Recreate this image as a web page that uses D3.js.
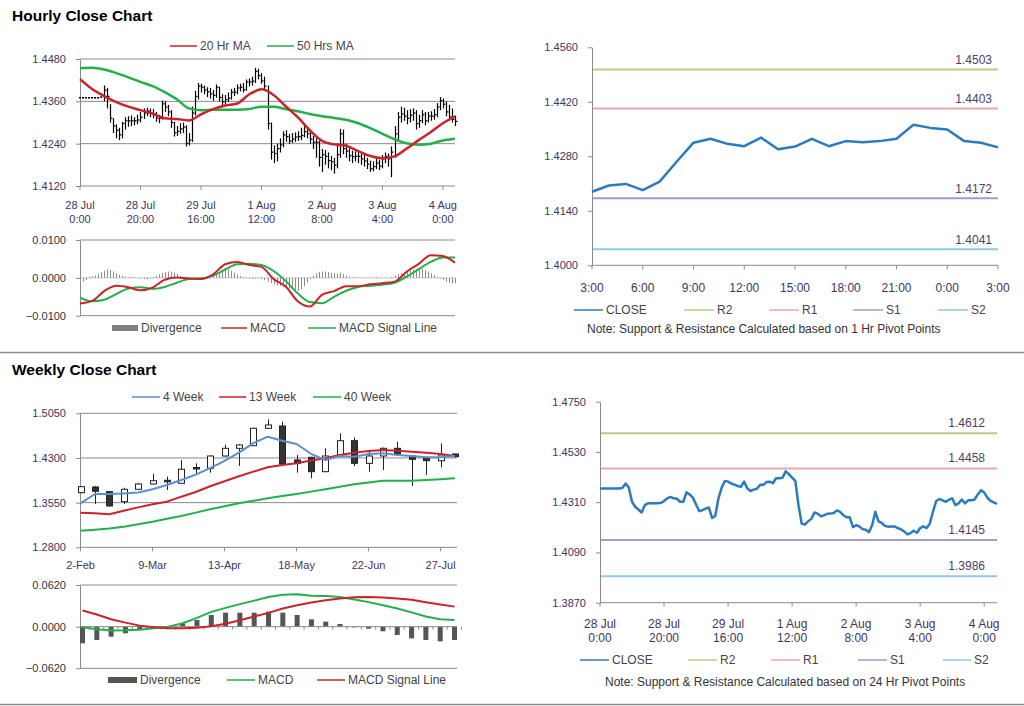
<!DOCTYPE html>
<html>
<head>
<meta charset="utf-8">
<script src="https://cdn.jsdelivr.net/npm/d3@7"></script>
<style>
  body { margin: 0; background: #fff; }
  svg { display: block; font-family: "Liberation Sans", Arial, sans-serif; }
</style>
</head>
<body>
<svg id="chart" width="1024" height="706"></svg>
<script>
// ---------- hourly data (one value per hourly bar) ----------
const hourClose = [
  1.4370,1.4370,1.4370,1.4370,1.4370,1.4370,1.4370,1.4372,1.4392,1.4374,
  1.4312,1.4290,1.4278,1.4265,1.4297,1.4305,1.4305,1.4305,1.4305,1.4307,
  1.4315,1.4327,1.4333,1.4327,1.4325,1.4312,1.4312,1.4353,1.4344,1.4330,
  1.4300,1.4271,1.4275,1.4282,1.4287,1.4241,1.4250,1.4327,1.4374,1.4403,
  1.4400,1.4392,1.4387,1.4381,1.4377,1.4400,1.4371,1.4359,1.4365,1.4369,
  1.4386,1.4386,1.4398,1.4400,1.4393,1.4415,1.4415,1.4417,1.4445,1.4433,
  1.4418,1.4403,1.4297,1.4216,1.4212,1.4226,1.4237,1.4265,1.4260,1.4248,
  1.4253,1.4259,1.4260,1.4263,1.4274,1.4268,1.4253,1.4244,1.4244,1.4201,
  1.4209,1.4204,1.4192,1.4189,1.4179,1.4209,1.4268,1.4226,1.4219,1.4206,
  1.4203,1.4204,1.4204,1.4197,1.4191,1.4182,1.4169,1.4175,1.4185,1.4176,
  1.4197,1.4204,1.4197,1.4216,1.4268,1.4315,1.4324,1.4318,1.4312,1.4321,
  1.4327,1.4297,1.4305,1.4322,1.4305,1.4318,1.4318,1.4322,1.4344,1.4362,
  1.4352,1.4330,1.4316,1.4309,1.4303
];
const hourHigh = [
  1.4370,1.4370,1.4370,1.4370,1.4370,1.4370,1.4370,1.4372,1.4405,1.4398,
  1.4352,1.4312,1.4295,1.4285,1.4302,1.4315,1.4318,1.4320,1.4315,1.4322,
  1.4330,1.4340,1.4342,1.4340,1.4338,1.4330,1.4322,1.4362,1.4360,1.4350,
  1.4335,1.4302,1.4290,1.4298,1.4300,1.4292,1.4270,1.4345,1.4390,1.4412,
  1.4410,1.4405,1.4400,1.4398,1.4392,1.4408,1.4402,1.4380,1.4378,1.4385,
  1.4395,1.4398,1.4408,1.4410,1.4412,1.4422,1.4425,1.4430,1.4455,1.4452,
  1.4440,1.4430,1.4405,1.4300,1.4235,1.4240,1.4255,1.4275,1.4278,1.4268,
  1.4270,1.4272,1.4275,1.4285,1.4290,1.4285,1.4275,1.4262,1.4255,1.4248,
  1.4225,1.4222,1.4215,1.4205,1.4200,1.4240,1.4282,1.4280,1.4240,1.4228,
  1.4220,1.4218,1.4216,1.4212,1.4208,1.4200,1.4192,1.4190,1.4198,1.4195,
  1.4208,1.4215,1.4212,1.4232,1.4290,1.4330,1.4345,1.4342,1.4335,1.4338,
  1.4340,1.4335,1.4322,1.4335,1.4330,1.4330,1.4332,1.4338,1.4355,1.4372,
  1.4368,1.4360,1.4350,1.4340,1.4320
];
const hourLow = [
  1.4370,1.4370,1.4370,1.4370,1.4370,1.4370,1.4370,1.4372,1.4360,1.4340,
  1.4300,1.4270,1.4255,1.4250,1.4255,1.4280,1.4288,1.4290,1.4292,1.4295,
  1.4300,1.4310,1.4318,1.4315,1.4312,1.4302,1.4298,1.4308,1.4330,1.4318,
  1.4285,1.4260,1.4262,1.4268,1.4270,1.4232,1.4235,1.4245,1.4320,1.4365,
  1.4385,1.4380,1.4372,1.4368,1.4362,1.4370,1.4360,1.4348,1.4352,1.4358,
  1.4365,1.4375,1.4380,1.4388,1.4385,1.4390,1.4402,1.4405,1.4412,1.4422,
  1.4410,1.4395,1.4280,1.4195,1.4185,1.4190,1.4215,1.4230,1.4245,1.4240,
  1.4242,1.4245,1.4248,1.4250,1.4258,1.4255,1.4240,1.4225,1.4200,1.4175,
  1.4160,1.4180,1.4170,1.4165,1.4155,1.4170,1.4200,1.4210,1.4200,1.4190,
  1.4185,1.4190,1.4185,1.4180,1.4175,1.4168,1.4160,1.4162,1.4168,1.4165,
  1.4170,1.4185,1.4175,1.4145,1.4200,1.4250,1.4300,1.4305,1.4295,1.4300,
  1.4305,1.4280,1.4285,1.4298,1.4292,1.4300,1.4305,1.4308,1.4315,1.4335,
  1.4340,1.4318,1.4305,1.4300,1.4290
];
const hourDiv = [
  -0.0012,-0.0010,-0.0006,0.0002,0.0004,0.0006,0.0010,0.0015,0.0019,0.0022,
  0.0021,0.0017,0.0012,0.0008,0.0005,0.0003,0.0002,0.0002,0.0001,0.0000,
  -0.0002,-0.0003,-0.0004,-0.0002,0.0002,0.0005,0.0009,0.0013,0.0015,0.0017,
  0.0016,0.0014,0.0010,0.0005,0.0002,-0.0002,-0.0003,-0.0002,-0.0001,-0.0002,
  -0.0003,-0.0002,0.0000,0.0001,0.0004,0.0008,0.0012,0.0016,0.0020,0.0022,
  0.0018,0.0014,0.0009,0.0005,0.0002,-0.0001,-0.0002,-0.0003,-0.0002,-0.0001,
  -0.0003,-0.0006,-0.0010,-0.0014,-0.0018,-0.0020,-0.0022,-0.0024,-0.0026,-0.0028,
  -0.0030,-0.0033,-0.0034,-0.0030,-0.0022,-0.0012,-0.0004,0.0006,0.0012,0.0016,
  0.0017,0.0016,0.0015,0.0013,0.0012,0.0011,0.0014,0.0010,0.0006,0.0003,
  0.0002,0.0001,0.0001,0.0000,-0.0001,0.0000,0.0001,0.0001,0.0002,0.0001,
  0.0000,0.0001,0.0000,0.0002,0.0006,0.0010,0.0013,0.0015,0.0017,0.0019,
  0.0021,0.0022,0.0024,0.0023,0.0020,0.0016,0.0012,0.0007,0.0003,-0.0002,
  -0.0006,-0.0010,-0.0013,-0.0015,-0.0014
];
// sampled every 4th hourly bar
const hourMa20 = [1.4423,1.4395,1.4375,1.4358,1.4345,1.4335,1.4325,1.4312,1.4310,1.4306,1.4323,1.4338,1.4348,1.4354,1.4380,1.4394,
                  1.4378,1.4346,1.4315,1.4278,1.4248,1.4238,1.4234,1.4219,1.4205,1.4199,1.4204,1.4226,1.4250,1.4273,1.4298,1.4317];
const hourMa50 = [1.4454,1.4455,1.4450,1.4440,1.4428,1.4415,1.4403,1.4386,1.4366,1.4340,1.4335,1.4336,1.4336,1.4336,1.4338,1.4345,
                  1.4345,1.4338,1.4332,1.4324,1.4318,1.4313,1.4308,1.4298,1.4284,1.4268,1.4252,1.4241,1.4237,1.4240,1.4249,1.4254];
const hourMacd = [-0.0068,-0.0061,-0.0035,-0.0021,-0.0025,-0.0033,-0.0026,-0.0005,0.0001,-0.0002,-0.0003,0.0009,0.0036,0.0042,0.0034,0.0029,
                  -0.0003,-0.0023,-0.0062,-0.0076,-0.0045,-0.0035,-0.0022,-0.0022,-0.0017,-0.0014,-0.0010,0.0016,0.0037,0.0060,0.0058,0.0040];
const hourSignal = [-0.0052,-0.0062,-0.0058,-0.0043,-0.0028,-0.0025,-0.0029,-0.0024,-0.0013,-0.0003,-0.0002,0.0006,0.0022,0.0036,0.0037,0.0034,
                    0.0018,-0.0008,-0.0041,-0.0064,-0.0067,-0.0050,-0.0034,-0.0024,-0.0021,-0.0018,-0.0013,0.0003,0.0023,0.0042,0.0054,0.0054];
const hourTickTop = ["28 Jul", "28 Jul", "29 Jul", "1 Aug", "2 Aug", "3 Aug", "4 Aug"];
const hourTickBottom = ["0:00", "20:00", "16:00", "12:00", "8:00", "4:00", "0:00"];

// ---------- last 24 hours ----------
const dayClose = [1.4189,1.4205,1.4209,1.4193,1.4215,1.4266,1.4315,1.4325,1.4312,1.4306,1.4328,1.4298,1.4305,
                  1.4325,1.4306,1.4319,1.4316,1.4319,1.4325,1.4361,1.4353,1.4349,1.4319,1.4315,1.4303];
const dayTicks = ["3:00", "6:00", "9:00", "12:00", "15:00", "18:00", "21:00", "0:00", "3:00"];

// ---------- pivots ----------
const pivotNames = ["R2", "R1", "S1", "S2"];
const pivot1h = [1.4503, 1.4403, 1.4172, 1.4041];
const pivot24h = [1.4612, 1.4458, 1.4145, 1.3986];

// ---------- weekly data ----------
const weekTicks = ["2-Feb", "9-Mar", "13-Apr", "18-May", "22-Jun", "27-Jul"];
const weekOpen  = [1.3717,1.3813,1.3734,1.3566,1.3774,1.3863,1.3925,1.3875,1.4140,1.4127,1.4333,1.4462,1.4506,1.4798,
                   1.4837,1.4266,1.4311,1.4070,1.4350,1.4590,1.4210,1.4333,1.4462,1.4333,1.4294,1.4254,1.4367];
const weekClose = [1.3818,1.3741,1.3494,1.3774,1.3863,1.3918,1.3908,1.4110,1.4120,1.4333,1.4462,1.4518,1.4798,1.4854,
                   1.4199,1.4210,1.4070,1.4333,1.4590,1.4210,1.4333,1.4462,1.4367,1.4277,1.4254,1.4350,1.4322];
const weekHigh  = [1.3825,1.3830,1.3745,1.3800,1.3880,1.4031,1.3986,1.4266,1.4211,1.4345,1.4518,1.4530,1.4810,1.4949,
                   1.4909,1.4350,1.4320,1.4462,1.4714,1.4645,1.4434,1.4475,1.4573,1.4345,1.4300,1.4546,1.4370];
const weekLow   = [1.3710,1.3527,1.3483,1.3527,1.3765,1.3855,1.3762,1.3870,1.4014,1.4053,1.4320,1.4165,1.4500,1.4790,
                   1.4190,1.4053,1.3959,1.4060,1.4340,1.4165,1.4070,1.4098,1.4350,1.3829,1.4014,1.4143,1.4310];
const week4  = [1.3539,1.3695,1.3695,1.3705,1.3720,1.3774,1.3846,1.3930,1.4020,1.4130,1.4250,1.4390,1.4550,1.4657,
                1.4590,1.4535,1.4370,1.4266,1.4333,1.4322,1.4367,1.4378,1.4350,1.4333,1.4311,1.4311,1.4333];
const week13 = [1.3381,1.3372,1.3356,1.3415,1.3470,1.3522,1.3566,1.3650,1.3728,1.3825,1.3910,1.3992,1.4070,1.4143,
                1.4180,1.4210,1.4256,1.4294,1.4350,1.4389,1.4417,1.4434,1.4422,1.4406,1.4388,1.4367,1.4333];
const week40 = [1.3079,1.3095,1.3115,1.3146,1.3188,1.3230,1.3278,1.3326,1.3382,1.3438,1.3490,1.3540,1.3580,1.3623,
                1.3660,1.3695,1.3735,1.3774,1.3816,1.3858,1.3890,1.3918,1.3918,1.3918,1.3930,1.3942,1.3959];
const weekMacd   = [-0.0010,-0.0040,-0.0058,-0.0055,-0.0045,-0.0025,0.0000,0.0050,0.0130,0.0220,0.0280,0.0335,0.0387,0.0440,
                    0.0475,0.0484,0.0460,0.0456,0.0440,0.0405,0.0365,0.0320,0.0270,0.0212,0.0150,0.0110,0.0099];
const weekSignal = [0.0240,0.0180,0.0110,0.0060,0.0015,-0.0010,-0.0022,-0.0025,-0.0015,0.0005,0.0042,0.0095,0.0150,0.0205,
                    0.0270,0.0320,0.0358,0.0393,0.0420,0.0437,0.0440,0.0435,0.0418,0.0400,0.0362,0.0330,0.0298];
const weekDiv    = [-0.0248,-0.0198,-0.0149,-0.0099,-0.0040,-0.0010,0.0010,0.0050,0.0099,0.0174,0.0208,0.0208,0.0208,0.0223,
                    0.0208,0.0174,0.0109,0.0074,0.0040,-0.0010,-0.0030,-0.0069,-0.0124,-0.0174,-0.0198,-0.0218,-0.0198];

// ---------- styling ----------
const FONT = '"Liberation Sans", Arial, sans-serif';
const AXIS = '#8a8a8a';
const LABEL = '#3d3560';
const RED = '#cc2229';
const GREEN = '#22b04b';
const BLUE = '#2b7bbf';
const PIVOT_COLORS = ['#b5cc88', '#e8a9a9', '#a898cc', '#8ccbe0'];

const svg = d3.select('#chart');
svg.append('rect').attr('width', 1024).attr('height', 706).attr('fill', '#fff');

function text(x, y, str, opts = {}) {
  return svg.append('text')
    .attr('x', x).attr('y', y)
    .attr('text-anchor', opts.anchor || 'start')
    .attr('fill', opts.color || '#333')
    .style('font-size', (opts.size || 11) + 'px')
    .style('font-weight', opts.bold ? 'bold' : 'normal')
    .text(str);
}

function hline(x1, x2, y, color, width = 1) {
  svg.append('line').attr('x1', x1).attr('x2', x2).attr('y1', y).attr('y2', y)
    .attr('stroke', color).attr('stroke-width', width);
}

// left axis built with d3.axisLeft
function yAxis(x, y, ticks, color) {
  const g = svg.append('g').attr('transform', `translate(${x},0)`)
    .call(d3.axisLeft(y).tickValues(ticks).tickFormat(d3.format('.4f'))
      .tickSize(4).tickSizeOuter(0).tickPadding(10));
  g.select('.domain').attr('stroke', AXIS);
  g.selectAll('.tick line').attr('stroke', AXIS);
  g.selectAll('.tick text').attr('fill', color).style('font-size', '11px').style('font-family', FONT);
  return g;
}

function grid(x1, x2, y, ticks) {
  ticks.forEach(t => hline(x1, x2, y(t), AXIS, 1));
}

function xTicks(x, idx, y0, len) {
  idx.forEach(i => {
    svg.append('line').attr('x1', x(i)).attr('x2', x(i)).attr('y1', y0).attr('y2', y0 + len)
      .attr('stroke', AXIS);
  });
}

function legend(items, y) {
  items.forEach(it => {
    if (it.bar) {
      svg.append('rect').attr('x', it.x).attr('y', y - 3).attr('width', it.w).attr('height', 6).attr('fill', it.color);
    } else {
      hline(it.x, it.x + it.w, y, it.color, 1.5);
    }
    text(it.x + it.w + 3, y + 4, it.label, { size: 12, color: '#444' });
  });
}

function seriesLine(data, x, y, color, width, step = 1) {
  svg.append('path').datum(data)
    .attr('fill', 'none').attr('stroke', color).attr('stroke-width', width)
    .attr('stroke-linejoin', 'round')
    .attr('d', d3.line().x((d, i) => x(i * step)).y(d => y(d)).curve(step > 1 ? d3.curveMonotoneX : d3.curveLinear));
}

// ---------- titles and separators ----------
text(12, 21, 'Hourly Close Chart', { size: 15.5, bold: true, color: '#000' });
text(12, 375, 'Weekly Close Chart', { size: 15.5, bold: true, color: '#000' });
hline(0, 1024, 352.5, '#8a8a8a', 1.5);
hline(0, 1024, 704.5, '#8a8a8a', 1.5);

// =============== HOURLY PRICE (top-left) ===============
{
  const x = d3.scaleLinear().domain([0, 124]).range([80, 455]);
  const y = d3.scaleLinear().domain([1.4120, 1.4480]).range([186, 59]);
  const ticks = [1.4480, 1.4360, 1.4240, 1.4120];
  grid(80, 455, y, ticks);
  yAxis(80, y, ticks, LABEL);
  const tickIdx = hourTickTop.map((d, i) => i * 20);
  xTicks(x, tickIdx, 186, 4);
  tickIdx.forEach((t, i) => {
    text(x(t), 209, hourTickTop[i], { anchor: 'middle', color: LABEL });
    text(x(t), 223, hourTickBottom[i], { anchor: 'middle', color: LABEL });
  });

  // OHLC bars
  const bars = svg.append('g').attr('stroke', '#000').attr('stroke-width', 1.2);
  hourClose.forEach((c, i) => {
    const xi = Math.round(x(i)) + 0.5;
    if (hourHigh[i] === hourLow[i]) {
      bars.append('line').attr('x1', x(i) - 1).attr('x2', x(i) + 1).attr('y1', y(c)).attr('y2', y(c))
        .attr('stroke-width', 1.6);
    } else {
      bars.append('line').attr('x1', xi).attr('x2', xi).attr('y1', y(hourHigh[i])).attr('y2', y(hourLow[i]));
      bars.append('line').attr('x1', xi).attr('x2', xi + 2).attr('y1', y(c)).attr('y2', y(c));
    }
  });
  seriesLine(hourMa50, x, y, GREEN, 2.5, 4);
  seriesLine(hourMa20, x, y, RED, 2.5, 4);

  legend([
    { label: '20 Hr MA', color: RED, x: 170, w: 27 },
    { label: '50 Hrs MA', color: GREEN, x: 267, w: 27 }
  ], 46);
}

// =============== HOURLY MACD ===============
{
  const x = d3.scaleLinear().domain([0, 124]).range([80, 455]);
  const y = d3.scaleLinear().domain([-0.01, 0.01]).range([315.7, 240]);
  const ticks = [0.01, 0, -0.01];
  hline(80, 455, y(0.01), AXIS);
  hline(80, 455, y(-0.01), AXIS);
  hline(80, 455, y(0), '#c8c8c8');
  yAxis(80, y, ticks, '#333');
  const g = svg.append('g').attr('stroke', '#8c8c8c').attr('stroke-width', 1);
  hourDiv.forEach((d, i) => {
    const xi = Math.round(x(i)) + 0.5;
    g.append('line').attr('x1', xi).attr('x2', xi).attr('y1', y(0)).attr('y2', y(d));
  });
  seriesLine(hourSignal, x, y, GREEN, 2, 4);
  seriesLine(hourMacd, x, y, RED, 2, 4);
  legend([
    { label: 'Divergence', color: '#7f7f7f', x: 112, w: 26, bar: true },
    { label: 'MACD', color: RED, x: 221, w: 26 },
    { label: 'MACD  Signal Line', color: GREEN, x: 308, w: 28 }
  ], 328);
}

// =============== 24H CLOSE WITH 1H PIVOTS (top-right) ===============
{
  const x = d3.scaleLinear().domain([0, 24]).range([592, 998]);
  const y = d3.scaleLinear().domain([1.4000, 1.4560]).range([265.3, 47.3]);
  const ticks = [1.4560, 1.4420, 1.4280, 1.4140, 1.4000];
  pivot1h.forEach((p, i) => {
    hline(592, 998, y(p), PIVOT_COLORS[i], 2);
    text(992, y(p) - 5, p.toFixed(4), { anchor: 'end', color: '#4a4266', size: 12 });
  });
  yAxis(592, y, ticks, LABEL);
  hline(592, 998, 265.3, AXIS);
  const tickIdx = dayTicks.map((d, i) => i * 3);
  xTicks(x, tickIdx, 265.3, 4);
  tickIdx.forEach((t, i) => text(x(t), 292, dayTicks[i], { anchor: 'middle', color: LABEL, size: 12 }));
  seriesLine(dayClose, x, y, BLUE, 2.5);

  legend([
    { label: 'CLOSE', color: BLUE, x: 574, w: 29 },
    { label: 'R2', color: PIVOT_COLORS[0], x: 684, w: 30 },
    { label: 'R1', color: PIVOT_COLORS[1], x: 769, w: 30 },
    { label: 'S1', color: PIVOT_COLORS[2], x: 853, w: 30 },
    { label: 'S2', color: PIVOT_COLORS[3], x: 938, w: 30 }
  ], 310);
  text(587, 333, 'Note: Support & Resistance Calculated based on 1 Hr Pivot Points', { size: 12, color: '#333' });
}

// =============== WEEKLY CANDLES (bottom-left) ===============
{
  const x = d3.scaleLinear().domain([0, 26]).range([80.5, 455]);
  const y = d3.scaleLinear().domain([1.2800, 1.5050]).range([547.3, 413.3]);
  const ticks = [1.5050, 1.4300, 1.3550, 1.2800];
  grid(80, 457, y, ticks);
  yAxis(80, y, ticks, LABEL);
  const tickIdx = weekTicks.map((d, i) => i * 5);
  xTicks(x, tickIdx, 547.3, 4);
  tickIdx.forEach((t, i) => text(x(t), 569, weekTicks[i], { anchor: 'middle', color: LABEL }));

  const g = svg.append('g');
  weekClose.forEach((c, i) => {
    const xi = Math.round(x(i)) + 0.5;
    const o = weekOpen[i];
    g.append('line').attr('x1', xi).attr('x2', xi).attr('y1', y(weekHigh[i])).attr('y2', y(weekLow[i]))
      .attr('stroke', '#222').attr('stroke-width', 1);
    const top = y(Math.max(o, c)), bot = y(Math.min(o, c));
    g.append('rect').attr('x', xi - 3).attr('y', top).attr('width', 6).attr('height', Math.max(1.5, bot - top))
      .attr('fill', c >= o ? '#fff' : '#333').attr('stroke', '#222').attr('stroke-width', 1);
  });
  seriesLine(week40, x, y, GREEN, 2);
  seriesLine(week13, x, y, RED, 2);
  seriesLine(week4, x, y, '#5b8fd0', 2);

  legend([
    { label: '4 Week', color: '#5b8fd0', x: 132, w: 28 },
    { label: '13 Week', color: RED, x: 219, w: 27 },
    { label: '40 Week', color: GREEN, x: 313, w: 28 }
  ], 397);
}

// =============== WEEKLY MACD ===============
{
  const x = d3.scaleLinear().domain([0, 26]).range([82.5, 454.5]);
  const y = d3.scaleLinear().domain([-0.062, 0.062]).range([668.3, 585]);
  const ticks = [0.062, 0, -0.062];
  hline(80, 457, y(0.062), AXIS);
  hline(80, 457, y(-0.062), AXIS);
  yAxis(80, y, ticks, '#333');
  const g = svg.append('g');
  weekDiv.forEach((d, i) => {
    g.append('rect').attr('x', x(i) - 2.5).attr('width', 5)
      .attr('y', Math.min(y(0), y(d))).attr('height', Math.abs(y(d) - y(0)))
      .attr('fill', '#555');
  });
  hline(80, 457, y(0), AXIS);
  weekDiv.forEach((d, i) => {
    svg.append('line').attr('x1', x(i) + 7).attr('x2', x(i) + 7).attr('y1', y(0)).attr('y2', y(0) + 3).attr('stroke', AXIS);
  });
  seriesLine(weekMacd, x, y, GREEN, 2);
  seriesLine(weekSignal, x, y, RED, 2);
  legend([
    { label: 'Divergence', color: '#555', x: 108, w: 29, bar: true },
    { label: 'MACD', color: GREEN, x: 227, w: 28 },
    { label: 'MACD  Signal Line', color: RED, x: 317, w: 28 }
  ], 680);
}

// =============== HOURLY CLOSE WITH 24H PIVOTS (bottom-right) ===============
{
  const x = d3.scaleLinear().domain([0, 124]).range([600, 997]);
  const y = d3.scaleLinear().domain([1.3870, 1.4750]).range([602.7, 401.7]);
  const ticks = [1.4750, 1.4530, 1.4310, 1.4090, 1.3870];
  pivot24h.forEach((p, i) => {
    hline(600, 997, y(p), PIVOT_COLORS[i], 2);
    text(985, y(p) - 6, p.toFixed(4), { anchor: 'end', color: '#4a4266', size: 12 });
  });
  yAxis(600, y, ticks, LABEL);
  hline(600, 997, 602.7, AXIS);
  const tickIdx = hourTickTop.map((d, i) => i * 20);
  xTicks(x, tickIdx, 602.7, 4);
  tickIdx.forEach((t, i) => {
    text(x(t), 628, hourTickTop[i], { anchor: 'middle', color: LABEL, size: 12 });
    text(x(t), 642, hourTickBottom[i], { anchor: 'middle', color: LABEL, size: 12 });
  });
  seriesLine(hourClose, x, y, BLUE, 2.5);

  legend([
    { label: 'CLOSE', color: BLUE, x: 580, w: 29 },
    { label: 'R2', color: PIVOT_COLORS[0], x: 688, w: 29 },
    { label: 'R1', color: PIVOT_COLORS[1], x: 771, w: 29 },
    { label: 'S1', color: PIVOT_COLORS[2], x: 858, w: 29 },
    { label: 'S2', color: PIVOT_COLORS[3], x: 943, w: 28 }
  ], 660);
  text(605, 686, 'Note: Support & Resistance Calculated based on 24 Hr Pivot Points', { size: 12, color: '#333' });
}
</script>
</body>
</html>
